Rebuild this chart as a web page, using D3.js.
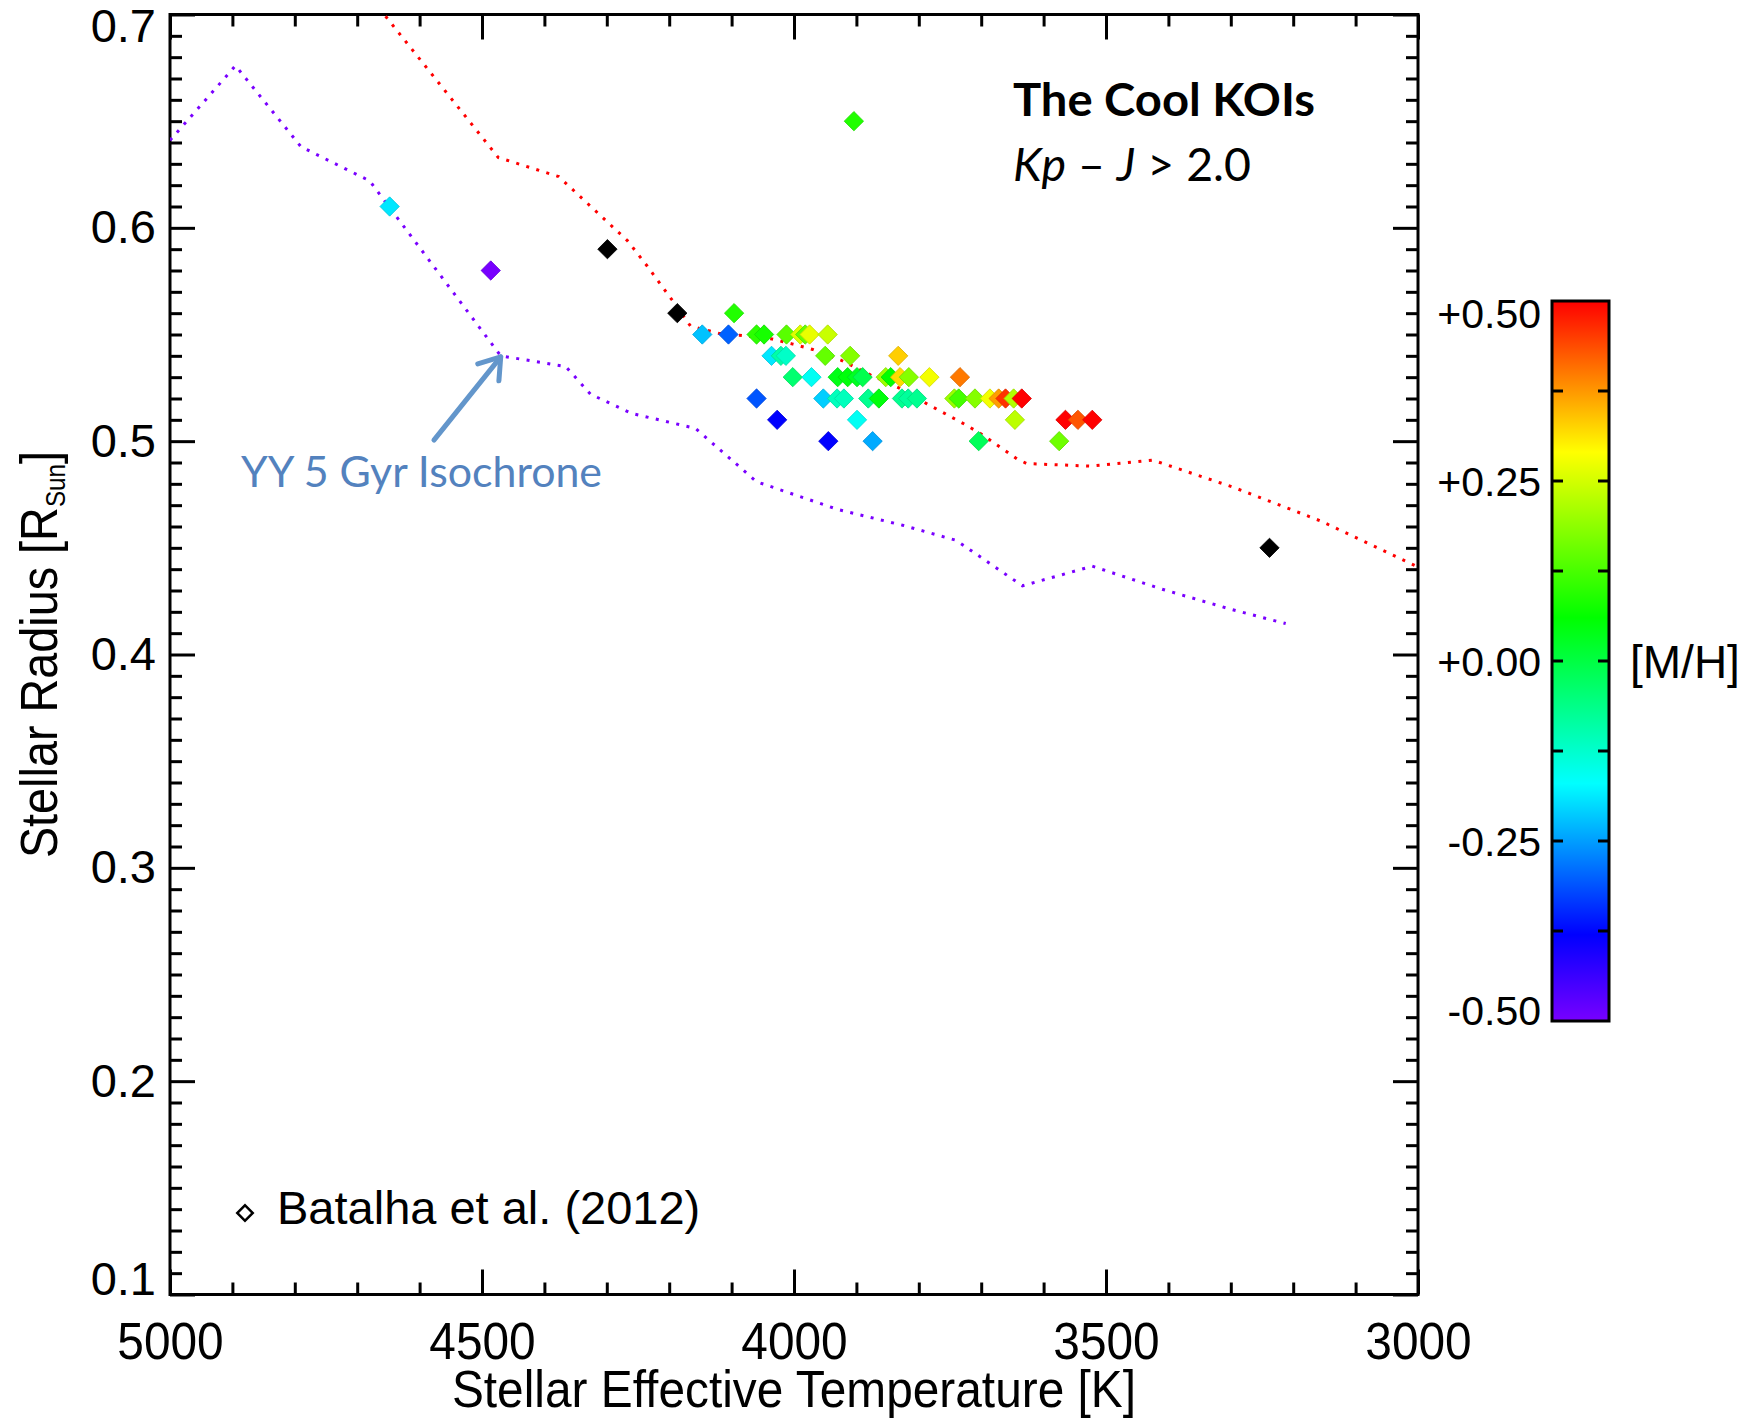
<!DOCTYPE html>
<html>
<head>
<meta charset="utf-8">
<script src="https://cdn.jsdelivr.net/npm/d3@7"></script>
<style>
body { margin: 0; background: #fff; }
text { font-family: "Liberation Sans", Arial, Helvetica, sans-serif; fill: #000; }
.note { font-family: Lato, "Open Sans", sans-serif; }
</style>
</head>
<body>
<div class="chart"></div>
<script>
// Cool KOIs: Teff [K], radius [Rsun], [M/H] (null = black marker)
const teff = [4648, 4486, 4299, 4187, 4147, 4105, 4096, 4060, 4048, 4036, 4021, 4013, 4012, 4060, 4027,
    4002, 3990, 3982, 3975, 3972, 3953, 3950, 3946, 3945, 3931, 3930, 3920, 3914, 3910, 3904,
    3899, 3899, 3890, 3881, 3874, 3864, 3853, 3845, 3833, 3830, 3827, 3817, 3816, 3803, 3783,
    3743, 3736, 3734, 3710, 3704, 3686, 3672, 3661, 3648, 3646, 3635, 3575, 3565, 3545, 3522, 3238]
const radius = [0.610, 0.580, 0.590, 0.560, 0.550, 0.550, 0.560, 0.550, 0.550, 0.540, 0.540, 0.540, 0.550, 0.520, 0.510,
    0.530, 0.550, 0.550, 0.550, 0.530, 0.520, 0.540, 0.550, 0.500, 0.520, 0.530, 0.520, 0.530, 0.540, 0.650,
    0.530, 0.510, 0.530, 0.520, 0.500, 0.520, 0.530, 0.530, 0.540, 0.530, 0.520, 0.520, 0.530, 0.520, 0.530,
    0.520, 0.520, 0.530, 0.520, 0.500, 0.520, 0.520, 0.520, 0.520, 0.510, 0.520, 0.500, 0.510, 0.510, 0.510, 0.450]
const metal = [-0.19, -0.50, null, null, -0.22, -0.30, 0.09, 0.10, 0.08, -0.19, -0.09, -0.12, 0.14, -0.31, -0.38,
    -0.04, 0.26, 0.15, 0.27, -0.16, -0.21, 0.15, 0.24, -0.38, -0.11, 0.04, -0.11, 0.05, 0.18, 0.09,
    0.03, -0.16, -0.01, -0.07, -0.24, 0.05, 0.20, 0.06, 0.33, 0.32, -0.07, -0.08, 0.18, -0.07, 0.28,
    0.20, 0.12, 0.40, 0.18, -0.02, 0.28, 0.37, 0.46, 0.22, 0.23, 0.50, 0.16, 0.50, 0.43, 0.50, null]

// isochrones (dotted lines)
const redTeff = [4665, 4474, 4377, 4267, 4235, 4195, 4166, 4120, 4088, 4037, 4002, 3970, 3925, 3877, 3832,
    3787, 3727, 3698, 3642, 3627, 3524, 3425, 3295, 3156, 3000]
const redRad = [0.703, 0.633, 0.624, 0.594, 0.582, 0.566, 0.554, 0.5505, 0.5497, 0.548, 0.5455, 0.543, 0.538, 0.531, 0.525,
    0.5175, 0.508, 0.503, 0.4916, 0.4895, 0.4883, 0.4911, 0.4783, 0.4626, 0.441]
const yyTeff = [5000, 4895, 4790, 4680, 4470, 4366, 4326, 4260, 4158, 4060, 3930, 3826, 3740, 3634, 3522, 3410, 3300, 3212]
const yyRad = [0.641, 0.676, 0.638, 0.622, 0.540, 0.535, 0.522, 0.513, 0.506, 0.481, 0.468, 0.4606, 0.4535, 0.4322, 0.4414, 0.4306, 0.4212, 0.4145]

const xTicks = [5000, 4500, 4000, 3500, 3000]
const yTicks = [0.1, 0.2, 0.3, 0.4, 0.5, 0.6, 0.7]
const cbTicks = [-0.5, -0.25, 0, 0.25, 0.5]
const cbLabels = ["-0.50", "-0.25", "+0.00", "+0.25", "+0.50"]
const fehStops = [-0.5, -0.38, -0.17, 0.06, 0.29, 0.5]
const stopColors = ["#7800ff", "#0000ff", "#00ffff", "#00ff00", "#ffff00", "#ff0000"]

const width = 1748
const height = 1420
const plot = { left: 170, right: 1418, top: 14.5, bottom: 1294.5 }
const bar = { left: 1552, right: 1609, top: 301, bottom: 1021 }

const svg = d3.select(".chart").append("svg")
    .attr("width", width)
    .attr("height", height)
svg.append("rect").attr("width", width).attr("height", height).attr("fill", "#fff")

const x = d3.scaleLinear().domain([5000, 3000]).range([plot.left, plot.right])
const y = d3.scaleLinear().domain([0.1, 0.7]).range([plot.bottom, plot.top])
const color = d3.scaleLinear().domain(fehStops).range(stopColors).clamp(true)

const defs = svg.append("defs")
defs.append("clipPath").attr("id", "plotClip")
    .append("rect")
    .attr("x", plot.left).attr("y", plot.top)
    .attr("width", plot.right - plot.left).attr("height", plot.bottom - plot.top)

// --- axes, IDL style: ticks inside on all four sides
const xMinor = d3.range(3100, 5000, 100).filter(d => d % 500 !== 0)
const yMinor = d3.range(11, 70).filter(d => d % 10 !== 0).map(d => d / 100)

function styleAxis(g) {
    g.select(".domain").remove()
    g.selectAll(".tick line").attr("stroke", "#000").attr("stroke-width", 3)
}

svg.append("g").attr("transform", "translate(0," + plot.bottom + ")")
    .call(d3.axisBottom(x).tickValues(xMinor).tickSize(-12).tickFormat("")).call(styleAxis)
svg.append("g").attr("transform", "translate(0," + plot.top + ")")
    .call(d3.axisTop(x).tickValues(xMinor).tickSize(-12).tickFormat("")).call(styleAxis)
svg.append("g").attr("transform", "translate(0," + plot.top + ")")
    .call(d3.axisTop(x).tickValues(xTicks).tickSize(-25).tickFormat("")).call(styleAxis)

const xAxis = svg.append("g").attr("transform", "translate(0," + plot.bottom + ")")
    .call(d3.axisBottom(x).tickValues(xTicks).tickSize(-25).tickPadding(28).tickFormat(d3.format("d")))
    .call(styleAxis)
xAxis.selectAll("text")
    .attr("font-size", 52)
    .attr("font-family", "Liberation Sans, Arial, sans-serif")
    .attr("transform", "scale(0.92,1)")

svg.append("g").attr("transform", "translate(" + plot.left + ",0)")
    .call(d3.axisLeft(y).tickValues(yMinor).tickSize(-12).tickFormat("")).call(styleAxis)
svg.append("g").attr("transform", "translate(" + plot.right + ",0)")
    .call(d3.axisRight(y).tickValues(yMinor).tickSize(-12).tickFormat("")).call(styleAxis)
svg.append("g").attr("transform", "translate(" + plot.right + ",0)")
    .call(d3.axisRight(y).tickValues(yTicks).tickSize(-25).tickFormat("")).call(styleAxis)

const yAxis = svg.append("g").attr("transform", "translate(" + plot.left + ",0)")
    .call(d3.axisLeft(y).tickValues(yTicks).tickSize(-25).tickPadding(14).tickFormat(d3.format(".1f")))
    .call(styleAxis)
yAxis.selectAll("text")
    .attr("font-size", 47)
    .attr("font-family", "Liberation Sans, Arial, sans-serif")
    .attr("y", d => d === 0.7 ? 12 : d === 0.1 ? -15 : 0)

svg.append("rect")
    .attr("x", plot.left).attr("y", plot.top)
    .attr("width", plot.right - plot.left).attr("height", plot.bottom - plot.top)
    .attr("fill", "none").attr("stroke", "#000").attr("stroke-width", 3)

// axis titles
svg.append("text")
    .attr("transform", "translate(" + ((plot.left + plot.right) / 2) + ",1407) scale(0.92,1)")
    .attr("text-anchor", "middle")
    .attr("font-size", 52)
    .text("Stellar Effective Temperature [K]")

const yTitle = svg.append("text")
    .attr("transform", "translate(57," + ((plot.top + plot.bottom) / 2) + ") rotate(-90) scale(0.9,1)")
    .attr("text-anchor", "middle")
    .attr("font-size", 52)
yTitle.append("tspan").text("Stellar Radius [R")
yTitle.append("tspan").attr("font-size", 27).attr("dy", 8).text("Sun")
yTitle.append("tspan").attr("dy", -8).text("]")

// --- isochrones
const lines = svg.append("g").attr("clip-path", "url(#plotClip)")
const lineGen = d3.line().x(d => x(d[0])).y(d => y(d[1]))

lines.append("path")
    .datum(d3.zip(redTeff, redRad))
    .attr("d", lineGen)
    .attr("fill", "none")
    .attr("stroke", "#ff0000")
    .attr("stroke-width", 3)
    .attr("stroke-dasharray", "3 7.5")

lines.append("path")
    .datum(d3.zip(yyTeff, yyRad))
    .attr("d", lineGen)
    .attr("fill", "none")
    .attr("stroke", "#7a00ff")
    .attr("stroke-width", 3)
    .attr("stroke-dasharray", "3 7.5")

// --- stars
const diamond = d3.symbol().type(d3.symbolSquare).size(186)
const stars = d3.range(teff.length).map(i => ({ t: teff[i], r: radius[i], m: metal[i] }))

svg.append("g").selectAll("path")
    .data(stars)
    .enter()
    .append("path")
    .attr("d", diamond)
    .attr("transform", d => "translate(" + x(d.t) + "," + y(d.r) + ") rotate(45)")
    .attr("fill", d => d.m === null ? "#000" : color(d.m))
    .attr("stroke", d => d.m === null ? "#000" : d3.color(color(d.m)).darker(0.4))
    .attr("stroke-width", 0.8)

// --- annotations
svg.append("text").attr("class", "note")
    .attr("x", 1013).attr("y", 116)
    .attr("font-size", 46).attr("font-weight", 700)
    .attr("textLength", 302).attr("lengthAdjust", "spacingAndGlyphs")
    .text("The Cool KOIs")

const sel = svg.append("text").attr("class", "note")
    .attr("x", 1013).attr("y", 181)
    .attr("font-size", 46)
    .attr("textLength", 238).attr("lengthAdjust", "spacingAndGlyphs")
sel.append("tspan").attr("font-style", "italic").text("Kp")
sel.append("tspan").text(" \u2013 ")
sel.append("tspan").attr("font-style", "italic").text("J")
sel.append("tspan").text(" > 2.0")

svg.append("text").attr("class", "note")
    .attr("x", 241).attr("y", 487)
    .attr("font-size", 43)
    .style("fill", "#5382be")
    .attr("textLength", 361).attr("lengthAdjust", "spacingAndGlyphs")
    .text("YY 5 Gyr Isochrone")

// arrow pointing at the isochrone knee
const tail = [x(4577), y(0.5005)]
const tip = [x(4470), y(0.5395)]
const ang = Math.atan2(tip[1] - tail[1], tip[0] - tail[0])
const wing = a => [tip[0] - 24 * Math.cos(ang + a), tip[1] - 24 * Math.sin(ang + a)]
const arrow = svg.append("g")
    .attr("fill", "none")
    .attr("stroke", "#6396cb")
    .attr("stroke-width", 5)
    .attr("stroke-linecap", "round")
    .attr("stroke-linejoin", "round")
arrow.append("line")
    .attr("x1", tail[0]).attr("y1", tail[1])
    .attr("x2", tip[0]).attr("y2", tip[1])
arrow.append("path")
    .attr("d", d3.line()([wing(0.6), tip, wing(-0.6)]))

// legend
svg.append("path")
    .attr("d", d3.symbol().type(d3.symbolSquare).size(120)())
    .attr("transform", "translate(245,1213) rotate(45)")
    .attr("fill", "#fff")
    .attr("stroke", "#000")
    .attr("stroke-width", 2.5)
svg.append("text")
    .attr("x", 277).attr("y", 1224)
    .attr("font-size", 47)
    .text("Batalha et al. (2012)")

// --- colour bar
const cb = d3.scaleLinear().domain([-0.5, 0.5]).range([bar.bottom, bar.top])
const grad = defs.append("linearGradient")
    .attr("id", "cbGrad")
    .attr("x1", 0).attr("y1", 1).attr("x2", 0).attr("y2", 0)
grad.selectAll("stop")
    .data(fehStops)
    .enter()
    .append("stop")
    .attr("offset", d => (d + 0.5))
    .attr("stop-color", (d, i) => stopColors[i])

svg.append("rect")
    .attr("x", bar.left).attr("y", bar.top)
    .attr("width", bar.right - bar.left).attr("height", bar.bottom - bar.top)
    .attr("fill", "url(#cbGrad)")

const cbMinor = d3.range(-3, 4).map(d => d * 0.125)
const cbTickG = svg.append("g").attr("stroke", "#000").attr("stroke-width", 3)
cbTickG.selectAll(".l").data(cbMinor).enter().append("line")
    .attr("x1", bar.left).attr("x2", bar.left + 11)
    .attr("y1", d => cb(d)).attr("y2", d => cb(d))
cbTickG.selectAll(".r").data(cbMinor).enter().append("line")
    .attr("x1", bar.right - 11).attr("x2", bar.right)
    .attr("y1", d => cb(d)).attr("y2", d => cb(d))

svg.append("rect")
    .attr("x", bar.left).attr("y", bar.top)
    .attr("width", bar.right - bar.left).attr("height", bar.bottom - bar.top)
    .attr("fill", "none").attr("stroke", "#000").attr("stroke-width", 3)

svg.append("g").selectAll("text")
    .data(cbTicks)
    .enter()
    .append("text")
    .attr("x", bar.left - 11)
    .attr("y", d => cb(d) + (d === 0.5 ? 12 : d === -0.5 ? -11 : 0))
    .attr("dy", "0.36em")
    .attr("text-anchor", "end")
    .attr("font-size", 41)
    .text((d, i) => cbLabels[i])

svg.append("text")
    .attr("x", 1630).attr("y", cb(0))
    .attr("dy", "0.36em")
    .attr("font-size", 46)
    .text("[M/H]")
</script>
</body>
</html>
